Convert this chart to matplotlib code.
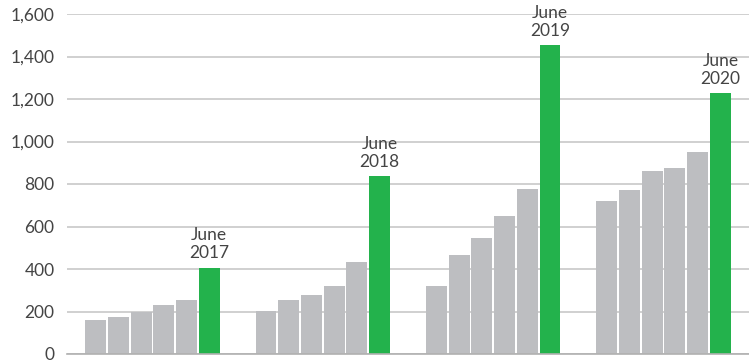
import matplotlib.pyplot as plt

# values, 6 bars per group (last one is June)
group_labels = ['June\n2017', 'June\n2018', 'June\n2019', 'June\n2020']
group_values = [
    [158, 175, 198, 232, 255, 406],
    [202, 254, 278, 320, 433, 838],
    [320, 466, 546, 649, 776, 1454],
    [720, 772, 861, 875, 951, 1228],
]
y_ticks = [0, 200, 400, 600, 800, 1000, 1200, 1400, 1600]

gray = '#bdbec1'
green = '#23b24c'
text_color = '#444444'

plt.rcParams['font.family'] = ['Lato', 'DejaVu Sans']

fig = plt.figure(figsize=(7.49, 3.62), dpi=100)
ax = fig.add_axes([67 / 749, 8 / 362, 1 - 67 / 749, 340 / 362])

for g, vals in enumerate(group_values):
    xs = [g * 7.5 + i for i in range(len(vals))]
    colors = [gray] * (len(vals) - 1) + [green]
    ax.bar(xs, vals, width=0.92, color=colors, zorder=2)
    ax.text(xs[-1], vals[-1] + 30, group_labels[g], ha='center', va='bottom',
            fontsize=12.5, color=text_color, linespacing=1.15, clip_on=False, zorder=3)

ax.set_xlim(-1.26, 28.76)
ax.set_ylim(0, 1600)
ax.set_yticks(y_ticks)
ax.set_yticklabels([f'{v:,}' for v in y_ticks])
ax.set_xticks([])
ax.grid(axis='y', color='#c8c8c8', linewidth=1.2, zorder=0)
ax.tick_params(axis='y', length=0, pad=9, labelsize=12.5, labelcolor=text_color)
for s in ['top', 'right', 'left']:
    ax.spines[s].set_visible(False)
ax.spines['bottom'].set_color('#b0b0b0')
ax.spines['bottom'].set_linewidth(1.2)

fig.savefig('out.png', dpi=100)
